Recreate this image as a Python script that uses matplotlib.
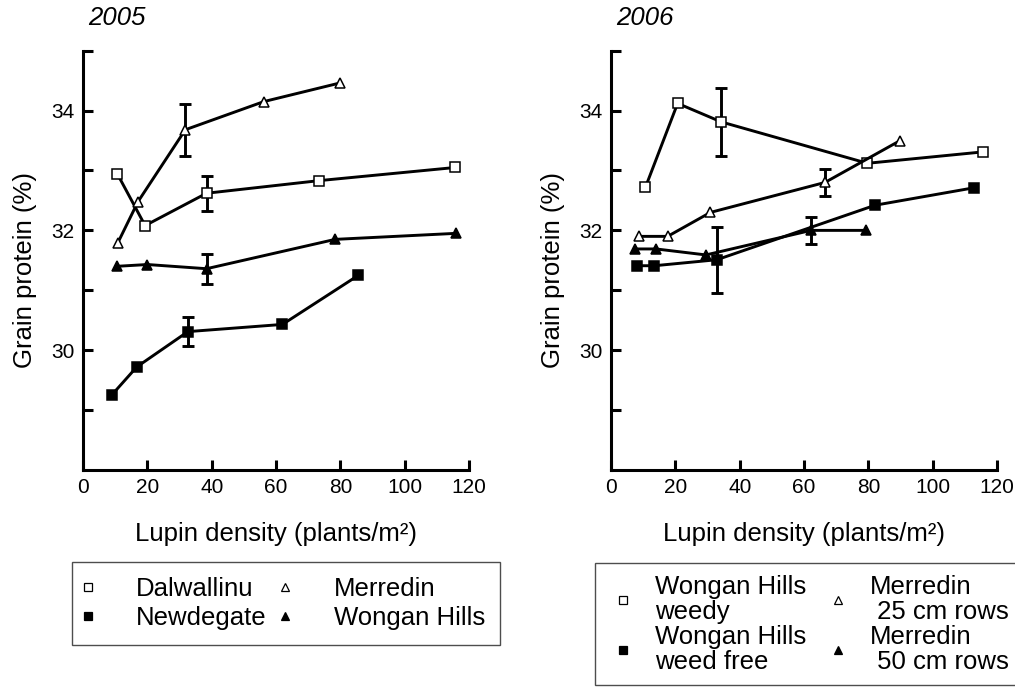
import matplotlib
matplotlib.use('Agg')
import matplotlib.pyplot as plt
from matplotlib.lines import Line2D
import numpy as np

plt.rcParams['font.family'] = ['Liberation Sans', 'DejaVu Sans']

# ---------------- data ----------------
x_ticks = [0, 20, 40, 60, 80, 100, 120]
y_major = [30, 32, 34]
y_minor = [29, 31, 33, 35]

# 2005
dal_x = [10.7, 19.3, 38.4, 73.3, 115.7]
dal_y = [32.94, 32.08, 32.62, 32.83, 33.05]
dal_err = [0, 0, 0.29, 0, 0]

mer05_x = [10.8, 17.1, 31.8, 56.2, 79.8]
mer05_y = [31.79, 32.48, 33.68, 34.15, 34.46]
mer05_err = [0, 0, 0.43, 0, 0]

new_x = [8.9, 16.7, 32.6, 62.0, 85.6]
new_y = [29.25, 29.72, 30.31, 30.43, 31.25]
new_err = [0, 0, 0.24, 0, 0]

won05_x = [10.5, 20.0, 38.4, 78.4, 115.8]
won05_y = [31.40, 31.43, 31.36, 31.85, 31.95]
won05_err = [0, 0, 0.25, 0, 0]

# 2006
whw_x = [10.7, 20.7, 34.3, 79.7, 115.6]
whw_y = [32.72, 34.12, 33.81, 33.12, 33.31]
whw_err = [0, 0, 0.56, 0, 0]

m25_x = [8.6, 17.6, 30.9, 66.5, 89.9]
m25_y = [31.90, 31.90, 32.30, 32.80, 33.50]
m25_err = [0, 0, 0, 0.22, 0]

m50_x = [7.3, 14.0, 29.5, 62.2, 79.2]
m50_y = [31.69, 31.69, 31.59, 32.00, 32.00]
m50_err = [0, 0, 0, 0.22, 0]

whf_x = [8.2, 13.5, 32.9, 82.1, 112.7]
whf_y = [31.41, 31.41, 31.51, 32.42, 32.71]
whf_err = [0, 0, 0.55, 0, 0]

labels05 = ['Dalwallinu', 'Newdegate', 'Merredin', 'Wongan Hills']
labels06 = ['Wongan Hills\nweedy', 'Wongan Hills\nweed free',
            'Merredin\n 25 cm rows', 'Merredin\n 50 cm rows']

# ---------------- figure ----------------
fig = plt.figure(figsize=(10.15, 6.97), dpi=100)
ax1 = fig.add_axes([0.0818, 0.3257, 0.3803, 0.6016])
ax2 = fig.add_axes([0.6020, 0.3257, 0.3803, 0.6016])


def style(ax):
    ax.set_xlim(0, 120)
    ax.set_ylim(28, 35)
    ax.spines[['top', 'right']].set_visible(False)
    for s in ['left', 'bottom']:
        ax.spines[s].set_linewidth(2.2)
    ax.set_xticks(x_ticks)
    ax.set_yticks(y_major)
    ax.set_yticks(y_minor, minor=True)
    ax.tick_params(which='both', direction='in', length=7.5, width=2.2,
                   labelsize=15, pad=6)
    ax.set_xlabel('Lupin density (plants/m²)', fontsize=18.5)
    ax.set_ylabel('Grain protein (%)', fontsize=18.5)
    ax.xaxis.set_label_coords(0.5, -0.124)
    ax.yaxis.set_label_coords(-0.119, 0.477)


def series(ax, x, y, err, marker, fc):
    x = np.asarray(x)
    y = np.asarray(y)
    err = np.asarray(err)
    ax.plot(x, y, color='black', lw=2.1, marker=marker, ms=7.5, mfc=fc,
            mec='black', mew=1.1, zorder=3, clip_on=False)
    m = err > 0
    ax.errorbar(x[m], y[m], yerr=err[m], fmt='none', ecolor='black',
                elinewidth=2.1, capsize=4, capthick=2.1, zorder=2)


style(ax1)
style(ax2)

series(ax1, dal_x, dal_y, dal_err, 's', 'white')
series(ax1, mer05_x, mer05_y, mer05_err, '^', 'white')
series(ax1, won05_x, won05_y, won05_err, '^', 'black')
series(ax1, new_x, new_y, new_err, 's', 'black')

series(ax2, whw_x, whw_y, whw_err, 's', 'white')
series(ax2, m25_x, m25_y, m25_err, '^', 'white')
series(ax2, m50_x, m50_y, m50_err, '^', 'black')
series(ax2, whf_x, whf_y, whf_err, 's', 'black')

fig.text(88 / 1015, 1 - 18 / 697, '2005', fontsize=18.5, style='italic',
         ha='left', va='center')
fig.text(616 / 1015, 1 - 18 / 697, '2006', fontsize=18.5, style='italic',
         ha='left', va='center')


def handles():
    specs = [('s', 'white'), ('s', 'black'), ('^', 'white'), ('^', 'black')]
    return [Line2D([], [], linestyle='none', marker=mk, ms=6, mfc=fc,
                   mec='black', mew=0.9) for mk, fc in specs]


leg1 = fig.legend(handles(), labels05, ncol=2, loc='upper left',
                  bbox_to_anchor=(72 / 1015, 1 - 562 / 697),
                  bbox_transform=fig.transFigure, borderaxespad=0,
                  fontsize=18.5, frameon=True, fancybox=False,
                  edgecolor='0.3', framealpha=1, handlelength=0.05,
                  handletextpad=1.85, columnspacing=0.7, borderpad=0.6,
                  labelspacing=0.17)
leg1.get_frame().set_linewidth(1.0)

leg2 = fig.legend(handles(), labels06, ncol=2, loc='upper left',
                  bbox_to_anchor=(595 / 1015, 1 - 563 / 697),
                  bbox_transform=fig.transFigure, borderaxespad=0,
                  fontsize=18.5, frameon=True, fancybox=False,
                  edgecolor='0.3', framealpha=1, handlelength=1.3,
                  handletextpad=0.58, columnspacing=0.6, borderpad=0.45,
                  labelspacing=0.05)
leg2.get_frame().set_linewidth(1.0)
for t in leg2.get_texts():
    t.set_linespacing(1.05)

fig.savefig('out.png', dpi=100)
